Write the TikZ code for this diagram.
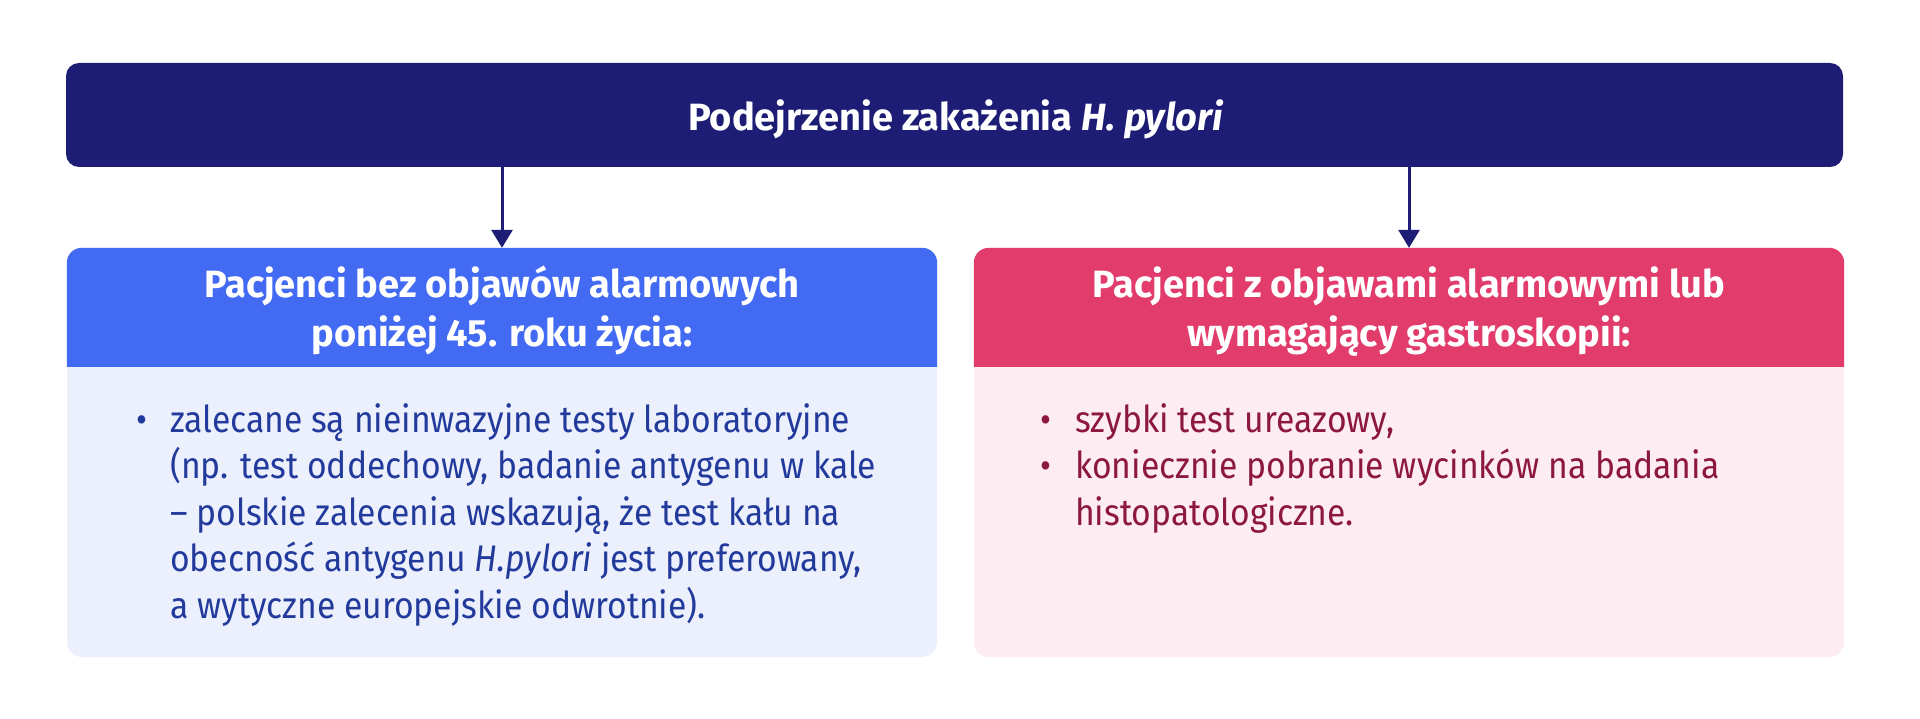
\documentclass[tikz,border=0pt]{standalone}
\usepackage{fontspec}
\setmainfont{Fira Sans}
\newfontfamily\bodyfont{Fira Sans}[FakeStretch=0.91]
\usetikzlibrary{calc,arrows.meta}
\definecolor{navy}{HTML}{1D1D75}
\definecolor{lhead}{HTML}{436AF2}
\definecolor{lbody}{HTML}{ECF0FC}
\definecolor{ltext}{HTML}{223A9C}
\definecolor{rhead}{HTML}{E13C6B}
\definecolor{rbody}{HTML}{FDECF2}
\definecolor{rtext}{HTML}{8C183D}
\begin{document}
\begin{tikzpicture}[x=1pt,y=-1pt,
  titletext/.style={font=\fontsize{38}{46}\selectfont\bfseries, text=white, inner sep=0pt},
  headtext/.style={font=\fontsize{38}{50}\selectfont\bfseries, text=white, inner sep=0pt, align=center},
  bodytext/.style={font=\bodyfont\fontsize{37}{46.5}\selectfont, inner sep=0pt, align=left},
  bul/.style={font=\bodyfont\fontsize{37}{46.5}\selectfont, inner sep=0pt},
  panel/.style={rounded corners=15pt, minimum width=870pt, minimum height=409pt, inner sep=0pt},
  arr/.style={navy, line width=3pt, -{Triangle[length=18pt,width=21pt]}}]
\useasboundingbox (0,0) rectangle (1920,719);
\fill[white] (0,0) rectangle (1920,719);
% top
\node[fill=navy, rounded corners=13pt, minimum width=1777pt, minimum height=104pt, inner sep=0pt] (top) at (954.5,115) {};
\node[titletext, anchor=base] (toptext) at (956,131) {Podejrzenie zakażenia \textit{H. pylori}};
% left panel
\node[panel, fill=lbody] (lbox) at (502,452.5) {};
\fill[lhead] ($(lbox.north west)+(0,119)$) [rounded corners=15pt] -- (lbox.north west) -- (lbox.north east) [sharp corners] -- ($(lbox.north east)+(0,119)$) -- cycle;
\node[headtext, anchor=base] (lhtext) at (502,347) {Pacjenci bez objawów alarmowych\\poniżej 45. roku życia:};
% right panel
\node[panel, fill=rbody] (rbox) at (1409,452.5) {};
\fill[rhead] ($(rbox.north west)+(0,119)$) [rounded corners=15pt] -- (rbox.north west) -- (rbox.north east) [sharp corners] -- ($(rbox.north east)+(0,119)$) -- cycle;
\node[headtext, anchor=base] (rhtext) at (1409,347) {Pacjenci z objawami alarmowymi lub\\wymagający gastroskopii:};
% arrows
\draw[arr] (top.south -| lbox.north) -- (lbox.north);
\draw[arr] (top.south -| rbox.north) -- (rbox.north);
% left body
\node[bul, text=ltext, anchor=base] (lb1) at (142,432) {•};
\node[bodytext, text=ltext, anchor=base west] (ltxt) at (170,618) {zalecane są nieinwazyjne testy laboratoryjne\\(np. test oddechowy, badanie antygenu w kale\\– polskie zalecenia wskazują, że test kału na\\obecność antygenu \textit{H.pylori} jest preferowany,\\a wytyczne europejskie odwrotnie).};
% right body
\node[bul, text=rtext, anchor=base] (rb1) at (1046,432) {•};
\node[bul, text=rtext, anchor=base] (rb2) at (1046,478.5) {•};
\node[bodytext, text=rtext, anchor=base west] (rtxt) at (1075,525) {szybki test ureazowy,\\koniecznie pobranie wycinków na badania\\histopatologiczne.};
\end{tikzpicture}
\end{document}
